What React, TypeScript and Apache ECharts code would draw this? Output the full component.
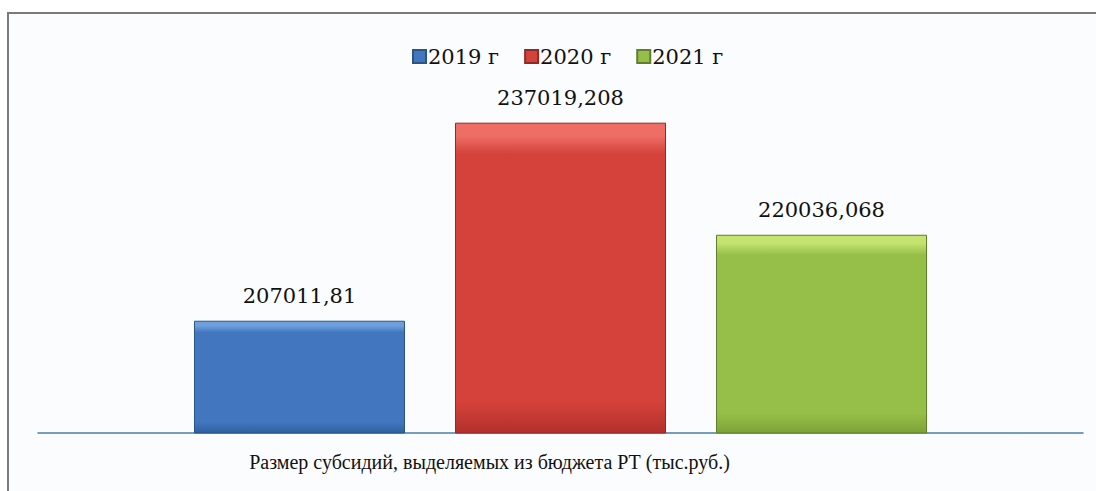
import React, { useEffect, useRef } from "react";
import * as echarts from "echarts";

const categories = ["Размер субсидий, выделяемых из бюджета РТ (тыс.руб.)"];
const seriesNames = ["2019 г", "2020 г", "2021 г"];
const values2019 = [207011.81];
const values2020 = [237019.208];
const values2021 = [220036.068];
const palettes = [
  { top: "#6f9fdc", mid: "#4277c0", bot: "#2f609f", border: "#2a5587" },
  { top: "#ee6e66", mid: "#d4423b", bot: "#b3302b", border: "#8f2a26" },
  { top: "#c4e36f", mid: "#95bf48", bot: "#7da238", border: "#5f7f2a" },
];

const FONT = "DejaVu Serif";
const AXIS_FONT = "'Liberation Serif', 'Times New Roman', serif";

function grad(p: any) {
  return new echarts.graphic.LinearGradient(0, 0, 0, 1, [
    { offset: 0, color: p.top },
    { offset: 0.04, color: p.top },
    { offset: 0.1, color: p.mid },
    { offset: 0.9, color: p.mid },
    { offset: 1, color: p.bot },
  ]);
}

export default function App() {
  const ref = useRef<HTMLDivElement>(null);
  useEffect(() => {
    const chart = echarts.init(ref.current!, null, { renderer: "svg" });
    const all = [values2019, values2020, values2021];
    chart.setOption({
      animation: false,
      backgroundColor: "#ffffff",
      graphic: [
        {
          type: "rect",
          z: -10,
          shape: { x: 8, y: 13, width: 1100, height: 500 },
          style: { fill: "#fbfcfe", stroke: "#7a7a7a", lineWidth: 2 },
        },
      ],
      legend: {
        top: 41,
        left: 407,
        itemWidth: 13,
        itemHeight: 13,
        itemGap: 25,
        icon: "rect",
        textStyle: { fontFamily: FONT, fontSize: 21, color: "#111", padding: [0, 0, 0, -3] },
        data: seriesNames,
      },
      grid: { left: 38, right: 13, top: 103, bottom: 58 },
      xAxis: {
        type: "category",
        data: categories,
        axisLine: { show: true, lineStyle: { color: "#4a7ea6", width: 1.5 } },
        axisTick: { show: false },
        axisLabel: {
          fontFamily: AXIS_FONT,
          fontSize: 20,
          color: "#111",
          margin: 19,
          padding: [0, 142, 0, 0],
        },
      },
      yAxis: { type: "value", min: 190000, max: 240000, show: false, splitLine: { show: false } },
      series: seriesNames.map((name, i) => ({
        name,
        type: "bar",
        data: all[i],
        barWidth: 211,
        barGap: "23.7%",
        itemStyle: { color: grad(palettes[i]), borderColor: palettes[i].border, borderWidth: 1 },
        label: {
          show: true,
          position: "top",
          distance: 14,
          fontFamily: FONT,
          fontSize: 21,
          color: "#111",
          formatter: (p: any) => String(p.value).replace(".", ","),
        },
      })),
    });
    return () => chart.dispose();
  }, []);
  return (
    <div
      ref={ref}
      style={{ position: "fixed", left: 0, top: 0, width: 1096, height: 491 }}
    />
  );
}
